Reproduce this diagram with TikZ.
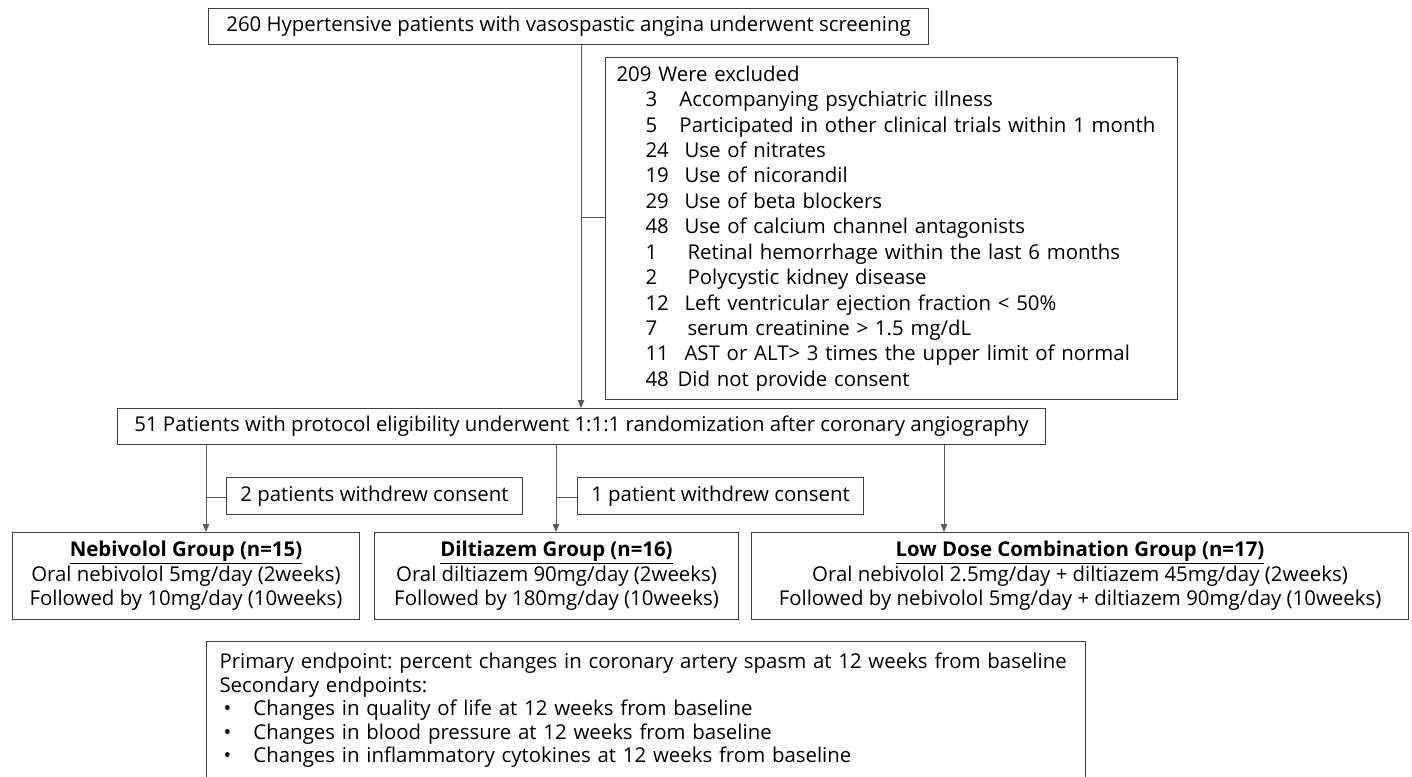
\documentclass[tikz,border=0pt]{standalone}
\usepackage{fontspec}
\setmainfont{Open Sans}
\usetikzlibrary{arrows.meta, positioning}

\newcommand{\flowfont}{\fontsize{20.4}{25.4}\selectfont}
\newcommand{\groupfont}{\fontsize{20.4}{24.5}\selectfont}
\newcommand{\goalfont}{\fontsize{20.4}{23.5}\selectfont}
\newcommand{\exline}[3]{\hspace*{29pt}\makebox[#1][l]{#2}#3}
\frenchspacing

\begin{document}
\begin{tikzpicture}[x=1pt,y=-1pt,>={Triangle[length=8pt,width=6.5pt]},
  box/.style={rectangle,draw=black!75,line width=1pt,inner sep=0pt,anchor=north west,font=\flowfont},
  group/.style={box,align=center,font=\groupfont},
  link/.style={draw=black!65,line width=0.8pt}]
  \useasboundingbox (0,0) rectangle (1412,776);

  \node[box, minimum width=720pt, minimum height=36pt] (screen) at (208,8)
    {260 Hypertensive patients with vasospastic angina underwent screening};
  \node[box, minimum width=572pt, minimum height=342pt, text width=550pt, inner xsep=11pt, align=left] (excluded) at (605,57)
    {209 Were excluded\\
     \exline{34pt}{3}{Accompanying psychiatric illness}\\
     \exline{34pt}{5}{Participated in other clinical trials within 1 month}\\
     \exline{39pt}{24}{Use of nitrates}\\
     \exline{39pt}{19}{Use of nicorandil}\\
     \exline{39pt}{29}{Use of beta blockers}\\
     \exline{39pt}{48}{Use of calcium channel antagonists}\\
     \exline{42pt}{1}{Retinal hemorrhage within the last 6 months}\\
     \exline{42pt}{2}{Polycystic kidney disease}\\
     \exline{39pt}{12}{Left ventricular ejection fraction < 50\%}\\
     \exline{42pt}{7}{serum creatinine > 1.5 mg/dL}\\
     \exline{39pt}{11}{AST or ALT> 3 times the upper limit of normal}\\
     \exline{32pt}{48}{Did not provide consent}};
  \node[box, minimum width=928pt, minimum height=36pt] (random) at (117,408)
    {51 Patients with protocol eligibility underwent 1:1:1 randomization after coronary angiography};
  \node[box, minimum width=296pt, minimum height=37pt] (withdrawA) at (226,477) {2 patients withdrew consent};
  \node[box, minimum width=286pt, minimum height=37pt] (withdrawB) at (577,477) {1 patient withdrew consent};

  \node[group, minimum width=347pt, minimum height=87pt] (nebivolol) at (12,532)
    {\textbf{\underline{Nebivolol Group (n=15)}}\\Oral nebivolol 5mg/day (2weeks)\\Followed by 10mg/day (10weeks)};
  \node[group, minimum width=364pt, minimum height=87pt] (diltiazem) at (374,532)
    {\textbf{\underline{Diltiazem Group (n=16)}}\\Oral diltiazem 90mg/day (2weeks)\\Followed by 180mg/day (10weeks)};
  \node[group, minimum width=657pt, minimum height=87pt] (combination) at (751,532)
    {\textbf{\underline{Low Dose Combination Group (n=17)}}\\Oral nebivolol 2.5mg/day + diltiazem 45mg/day (2weeks)\\Followed by nebivolol 5mg/day + diltiazem 90mg/day (10weeks)};

  \node[box, minimum width=879pt, minimum height=138pt, text width=853pt, inner xsep=13pt, align=left, font=\goalfont] (endpoints) at (206,641)
    {Primary endpoint: percent changes in coronary artery spasm at 12 weeks from baseline\\
     Secondary endpoints:\\
     \hspace*{4pt}\makebox[30pt][l]{\textbullet}Changes in quality of life at 12 weeks from baseline\\
     \hspace*{4pt}\makebox[30pt][l]{\textbullet}Changes in blood pressure at 12 weeks from baseline\\
     \hspace*{4pt}\makebox[30pt][l]{\textbullet}Changes in inflammatory cytokines at 12 weeks from baseline};

  % connectors
  \coordinate (exbranch) at (581,217);
  \coordinate (armA) at (206,497);
  \coordinate (armB) at (556,497);
  \coordinate (armC) at (944,497);
  \draw[link,->] (screen.south -| exbranch) -- (exbranch |- random.north);
  \draw[link] (exbranch) -- (exbranch -| excluded.west);
  \draw[link,->] (random.south -| armA) -- (armA |- nebivolol.north);
  \draw[link] (armA) -- (armA -| withdrawA.west);
  \draw[link,->] (random.south -| armB) -- (armB |- diltiazem.north);
  \draw[link] (armB) -- (armB -| withdrawB.west);
  \draw[link,->] (random.south -| armC) -- (armC |- combination.north);
\end{tikzpicture}
\end{document}
